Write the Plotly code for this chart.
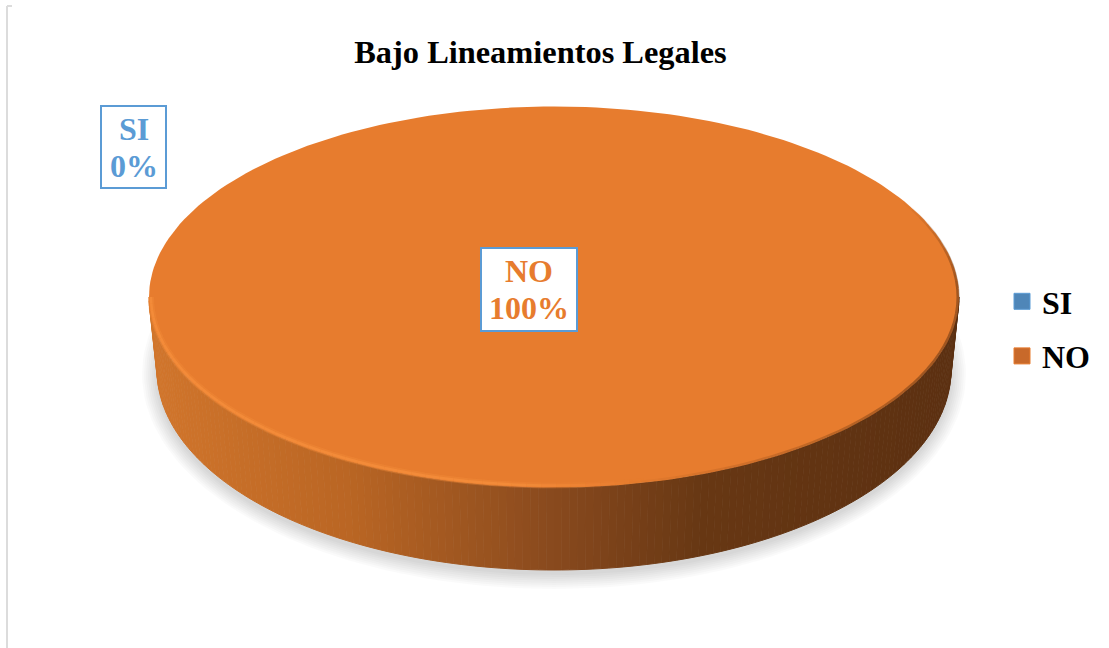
import numpy as np
import plotly.graph_objects as go

TITLE = "Bajo Lineamientos Legales"
categories = ["SI", "NO"]
values = [0, 100]
slice_colors = ["#5B9BD5", "#E77C2E"]
legend_colors = ["#4F86B8", "#C8692A"]
FONT = "Liberation Serif"
BLUE = "#5B9BD5"

# picture geometry of the tilted disc (paper pixels)
CX, CY, RX, RY = 554, 297, 405, 190.5
BX, BY, BRX, BRY = 554, 370, 397, 200

WALL_STOPS_X = [149, 350, 554, 700, 959]
WALL_STOPS_RGB = np.array([[210, 118, 44], [186, 102, 36], [137, 74, 30], [104, 56, 20], [92, 48, 17]], float)
RIM_STOPS_X = [149, 500, 640, 959]
RIM_ALPHA = [0.9, 0.9, 0.0, 0.0]
EDGE_STOPS_DEG = [-30, -5, 25, 80]
EDGE_ALPHA = [0.0, 0.5, 0.5, 0.0]


def rgb_at(x, xs, stops):
    return "rgb(%d,%d,%d)" % tuple(np.interp(x, xs, stops[:, i]) for i in range(3))


fig = go.Figure()


def polygon(x, y, color, line=None, width=0):
    fig.add_trace(go.Scatter(x=x, y=y, mode="lines", fill="toself", fillcolor=color,
                             line=dict(color=line or color, width=width),
                             hoverinfo="skip", showlegend=False))


def stroke(x, y, color, width):
    fig.add_trace(go.Scatter(x=x, y=y, mode="lines", hoverinfo="skip", showlegend=False,
                             line=dict(color=color, width=width)))


# soft shadow
t = np.linspace(0, 2 * np.pi, 181)
for i in range(8):
    grow = 15 - 2 * i
    polygon(BX + (BRX + grow) * np.cos(t), BY + 4 + (BRY + grow) * np.sin(t),
            "rgba(0,0,0,0.018)", width=0)

# side wall, front half
edges = np.linspace(np.pi, 0, 161)
for a, b in zip(edges[:-1], edges[1:]):
    th = np.linspace(a, b, 3)
    xs = np.r_[CX + RX * np.cos(th), BX + BRX * np.cos(th[::-1])]
    ys = np.r_[CY + RY * np.sin(th), BY + BRY * np.sin(th[::-1])]
    c = rgb_at(xs.mean(), WALL_STOPS_X, WALL_STOPS_RGB)
    polygon(xs, ys, c, width=1)

# top face, one sector per category, sized by its share
total = sum(values)
start = -np.pi / 2
for cat, val, col in zip(categories, values, slice_colors):
    sweep = 2 * np.pi * val / total
    if sweep == 0:
        continue
    th = np.linspace(start, start + sweep, 241)
    if sweep >= 2 * np.pi:
        xs, ys = CX + RX * np.cos(th), CY + RY * np.sin(th)
    else:
        xs = np.r_[CX, CX + RX * np.cos(th), CX]
        ys = np.r_[CY, CY + RY * np.sin(th), CY]
    polygon(xs, ys, col, width=0)
    start += sweep

# darkened right edge of the top face, fading out at both ends
edge = np.linspace(-30, 80, 45)
for a, b in zip(edge[:-1], edge[1:]):
    th = np.radians([a, b])
    alpha = float(np.interp((a + b) / 2, EDGE_STOPS_DEG, EDGE_ALPHA))
    stroke(CX + (RX - 1) * np.cos(th), CY + (RY - 1) * np.sin(th), f"rgba(92,48,17,{alpha:.3f})", 3)

# soft highlight on the front rim
rim = np.linspace(np.pi * 1.0, np.pi * 0.3, 61)
for a, b in zip(rim[:-1], rim[1:]):
    th = np.array([a, b])
    xs, ys = CX + (RX - 2) * np.cos(th), CY + (RY - 2) * np.sin(th)
    alpha = float(np.interp(xs.mean(), RIM_STOPS_X, RIM_ALPHA))
    if alpha > 0:
        stroke(xs, ys, f"rgba(244,140,58,{alpha * 0.4:.3f})", 6)
        stroke(xs, ys, f"rgba(244,140,58,{alpha:.3f})", 2.5)

# legend entries
for i, (cat, col) in enumerate(zip(categories, legend_colors)):
    fig.add_trace(go.Scatter(x=[None], y=[None], mode="markers", name=cat, legendgroup=cat,
                             marker=dict(symbol="square", size=16, color=col,
                                         line=dict(color=slice_colors[i], width=1))))

# data labels
label_boxes = {"SI": (101, 166, 106, 188), "NO": (481, 577, 248, 331)}
shapes = [dict(type="line", xref="x", yref="y", x0=7, x1=7, y0=6, y1=648,
               line=dict(color="#DCDCDC", width=2)),
          dict(type="line", xref="x", yref="y", x0=7, x1=12, y0=6, y1=6,
               line=dict(color="#DCDCDC", width=2))]
annotations = []
for cat, val, col in zip(categories, values, [BLUE, "#E77C2E"]):
    x0, x1, y0, y1 = label_boxes[cat]
    shapes.append(dict(type="rect", xref="x", yref="y", x0=x0, x1=x1, y0=y0, y1=y1,
                       fillcolor="white" if cat == "NO" else "rgba(0,0,0,0)",
                       line=dict(color=BLUE, width=2)))
    for line_text, yy in ((cat, y0 + 23), (f"{val}%", y0 + 60)):
        annotations.append(dict(xref="x", yref="y", x=(x0 + x1) / 2, y=yy, text=f"<b>{line_text}</b>",
                                showarrow=False, xanchor="center", yanchor="middle",
                                font=dict(family=FONT, size=32, color=col)))

fig.update_layout(
    width=1109, height=648, autosize=False,
    margin=dict(l=0, r=0, t=0, b=0),
    paper_bgcolor="white", plot_bgcolor="white",
    title=dict(text=f"<b>{TITLE}</b>", x=540.5 / 1109, xanchor="center", y=1 - 52 / 648, yanchor="middle",
               font=dict(family=FONT, size=32.4, color="black")),
    xaxis=dict(range=[0, 1109], visible=False, fixedrange=True),
    yaxis=dict(range=[648, 0], visible=False, fixedrange=True),
    legend=dict(x=1002 / 1109, y=1 - 274 / 648, xanchor="left", yanchor="top",
                bgcolor="rgba(0,0,0,0)", font=dict(family=FONT, size=32, color="black", weight=700),
                tracegroupgap=10, itemwidth=30, traceorder="grouped"),
    shapes=shapes, annotations=annotations,
)
fig.write_html("out.html", config=dict(displayModeBar=False),
               post_script="document.body.style.margin='0';document.body.style.overflow='hidden';")
